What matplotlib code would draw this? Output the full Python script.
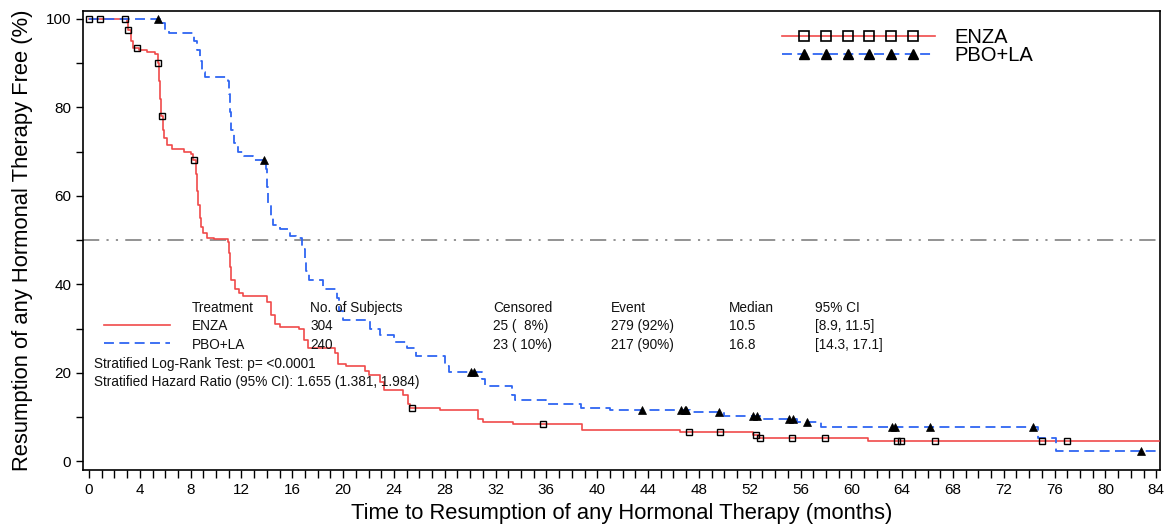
import numpy as np
import matplotlib
matplotlib.use("Agg")
import matplotlib.pyplot as plt
from matplotlib.legend_handler import HandlerLine2D

plt.rcParams["font.family"] = ["Liberation Sans", "DejaVu Sans"]

# Kaplan-Meier step points (months, % free) per arm
enza_t = [0, 3.0, 3.1, 3.3, 3.5, 3.9, 4.6, 5.2, 5.4, 5.5, 5.6, 5.7, 5.8, 5.9, 6.1, 6.5,
          7.5, 8.0, 8.2, 8.4, 8.5, 8.6, 8.7, 8.8, 9.0, 9.3, 9.8, 10.9, 11.0, 11.1, 11.2,
          11.5, 11.8, 12.1, 14.0, 14.3, 14.6, 15.0, 16.5, 16.9, 17.2, 19.4, 19.6, 20.2,
          21.7, 22.0, 22.9, 23.2, 24.7, 25.1, 25.3, 27.6, 30.6, 31.0, 33.4, 38.8, 46.5,
          52.3, 52.7, 61.3]
enza_s = [100, 99.3, 97.5, 95, 93.5, 93, 92.5, 92, 90, 86, 82, 78, 75, 73, 71.5, 70.5,
          70, 69.5, 68, 65, 61, 58, 55, 53, 51.5, 50.5, 50.2, 49.5, 47, 44, 41,
          39, 38, 37.3, 36, 33, 31, 30.4, 29.8, 27.5, 25.5, 24.5, 22, 21.5,
          20.5, 19.5, 18, 16, 15, 13, 12, 11.5, 9.5, 8.8, 8.3, 7.0, 6.6,
          6.0, 5.3, 4.5]
enza_cens = [0, 0.9, 2.8, 3.1, 3.8, 5.4, 5.75, 8.3, 25.4, 35.7, 47.2, 49.7, 52.5, 52.8,
             55.3, 57.9, 63.6, 63.9, 66.6, 75.0, 77.0]

pbo_t = [0, 5.6, 6.0, 6.3, 8.3, 8.5, 8.7, 8.9, 9.1, 10.9, 11.0, 11.1, 11.2, 11.4, 11.7,
         12.2, 12.9, 13.9, 14.0, 14.1, 14.3, 14.5, 15.0, 15.8, 16.3, 16.8, 17.0, 17.1,
         17.3, 18.4, 19.5, 19.7, 20.0, 22.1, 22.9, 24.0, 25.0, 25.7, 28.0, 28.3, 30.9,
         31.2, 33.3, 33.5, 36.0, 38.7, 41.0, 47.3, 50.0, 52.9, 55.7, 57.6, 74.7, 76.1]
pbo_s = [100, 99, 97.5, 96.8, 95, 93, 90.5, 88, 86.8, 86, 83, 79, 75, 72, 70,
         69, 68.2, 66, 62, 58, 55, 53.5, 52.5, 51, 50.5, 48, 46, 43,
         41, 39, 37, 34, 32, 30, 28.5, 27, 25.5, 23.8, 21.5, 20.2, 18.5,
         17, 15, 13.8, 13.0, 12.1, 11.6, 11.1, 10.2, 9.5, 8.8, 7.8, 5.2, 2.3]
pbo_cens = [5.4, 13.8, 30.1, 30.3, 43.5, 46.6, 46.9, 47.0, 49.6, 52.3, 52.6, 55.1,
            55.4, 56.5, 63.2, 63.4, 66.2, 74.3, 82.8]

t_end = 84.2

x_ticks = np.arange(0, 85, 4)
y_ticks = np.arange(0, 101, 20)

header = ["Treatment", "No. of Subjects", "Censored", "Event", "Median", "95% CI"]
enza_row = ["ENZA", "304", "25 (  8%)", "279 (92%)", "10.5", "[8.9, 11.5]"]
pbo_row = ["PBO+LA", "240", "23 ( 10%)", "217 (90%)", "16.8", "[14.3, 17.1]"]
col_x = [0.1012, 0.2108, 0.3807, 0.4903, 0.5998, 0.6797]
stat_lines = ["Stratified Log-Rank Test: p= <0.0001",
              "Stratified Hazard Ratio (95% CI): 1.655 (1.381, 1.984)"]

RED = "#f04a4a"
BLUE = "#2f66f2"


def surv_at(t, times, surv):
    i = np.searchsorted(times, t, side="right") - 1
    return surv[i]


class InsetMarkers(HandlerLine2D):
    # full-length legend line with six markers set inside its ends
    def get_xdata(self, legend, xdescent, ydescent, width, height, fontsize):
        x = np.linspace(-xdescent, -xdescent + width, 8)
        return x, x

    def create_artists(self, *args, **kwargs):
        arts = super().create_artists(*args, **kwargs)
        arts[0].set_markevery(slice(1, -1))
        return arts


fig = plt.figure(figsize=(11.68, 5.30), dpi=100)
ax = fig.add_axes([0.0711, 0.1132, 0.9221, 0.866])

ax.axhline(50, color="#8a8a8a", lw=1.3, dashes=(9, 4, 1.2, 4, 1.2, 4), zorder=1)

et = np.array(enza_t + [t_end])
es = np.array(enza_s + [enza_s[-1]])
pt = np.array(pbo_t + [t_end])
ps = np.array(pbo_s + [pbo_s[-1]])

ax.step(et, es, where="post", color=RED, lw=1.2, zorder=3)
ax.step(pt, ps, where="post", color=BLUE, lw=1.3, dashes=(5.5, 3), zorder=3)

ec = np.array(enza_cens)
pc = np.array(pbo_cens)
ax.plot(ec, surv_at(ec, et, es), ls="none", marker="s", ms=5, mfc="none",
        mec="black", mew=1.0, zorder=4)
ax.plot(pc, surv_at(pc, pt, ps), ls="none", marker="^", ms=6, mfc="black",
        mec="black", mew=0.5, zorder=4)

# legend handles
h_enza, = ax.plot([], [], color=RED, lw=1.2, marker="s", ms=7, mfc="none",
                  mec="black", mew=1.2)
h_pbo, = ax.plot([], [], color=BLUE, lw=1.3, dashes=(5.5, 3), marker="^", ms=7.5,
                 mfc="black", mec="black")
leg = ax.legend([h_enza, h_pbo], ["ENZA", "PBO+LA"], loc="upper left",
                bbox_to_anchor=(0.649, 0.962), frameon=False, fontsize=14.5,
                numpoints=2, handlelength=7.6, handletextpad=0.98,
                labelspacing=-0.07, borderpad=0, borderaxespad=0,
                handler_map={h_enza: InsetMarkers(), h_pbo: InsetMarkers()})

ax.set_xlim(-0.47, 84.3)
ax.set_ylim(-2, 101.8)
ax.set_xticks(x_ticks)
ax.set_xticks(np.arange(0, 85, 1), minor=True)
ax.set_yticks(y_ticks)
ax.set_yticks(np.arange(0, 101, 10), minor=True)
ax.tick_params(which="both", direction="out", length=5, width=1, labelsize=11,
               colors="black")
ax.tick_params(axis="x", which="both", length=6)
for s in ax.spines.values():
    s.set_linewidth(1.2)

ax.set_xlabel("Time to Resumption of any Hormonal Therapy (months)", fontsize=15.8,
              labelpad=4)
ax.set_ylabel("Resumption of any Hormonal Therapy Free (%)", fontsize=15.8, labelpad=9)

# summary table
fs = 9.8
rows_y = [0.353, 0.3137, 0.2723]
for row, yy in zip([header, enza_row, pbo_row], rows_y):
    for txt, xx in zip(row, col_x):
        ax.text(xx, yy, txt, transform=ax.transAxes, fontsize=fs, va="center",
                ha="left", color="#111111")
ax.plot([0.0195, 0.0808], [0.316, 0.316], transform=ax.transAxes, color=RED, lw=1.2)
ax.plot([0.0195, 0.0808], [0.2767, 0.2767], transform=ax.transAxes, color=BLUE,
        lw=1.3, dashes=(5.5, 3))
for txt, yy in zip(stat_lines, [0.232, 0.1917]):
    ax.text(0.0102, yy, txt, transform=ax.transAxes, fontsize=fs, va="center",
            ha="left", color="#111111")

fig.savefig("out.png", dpi=100)
